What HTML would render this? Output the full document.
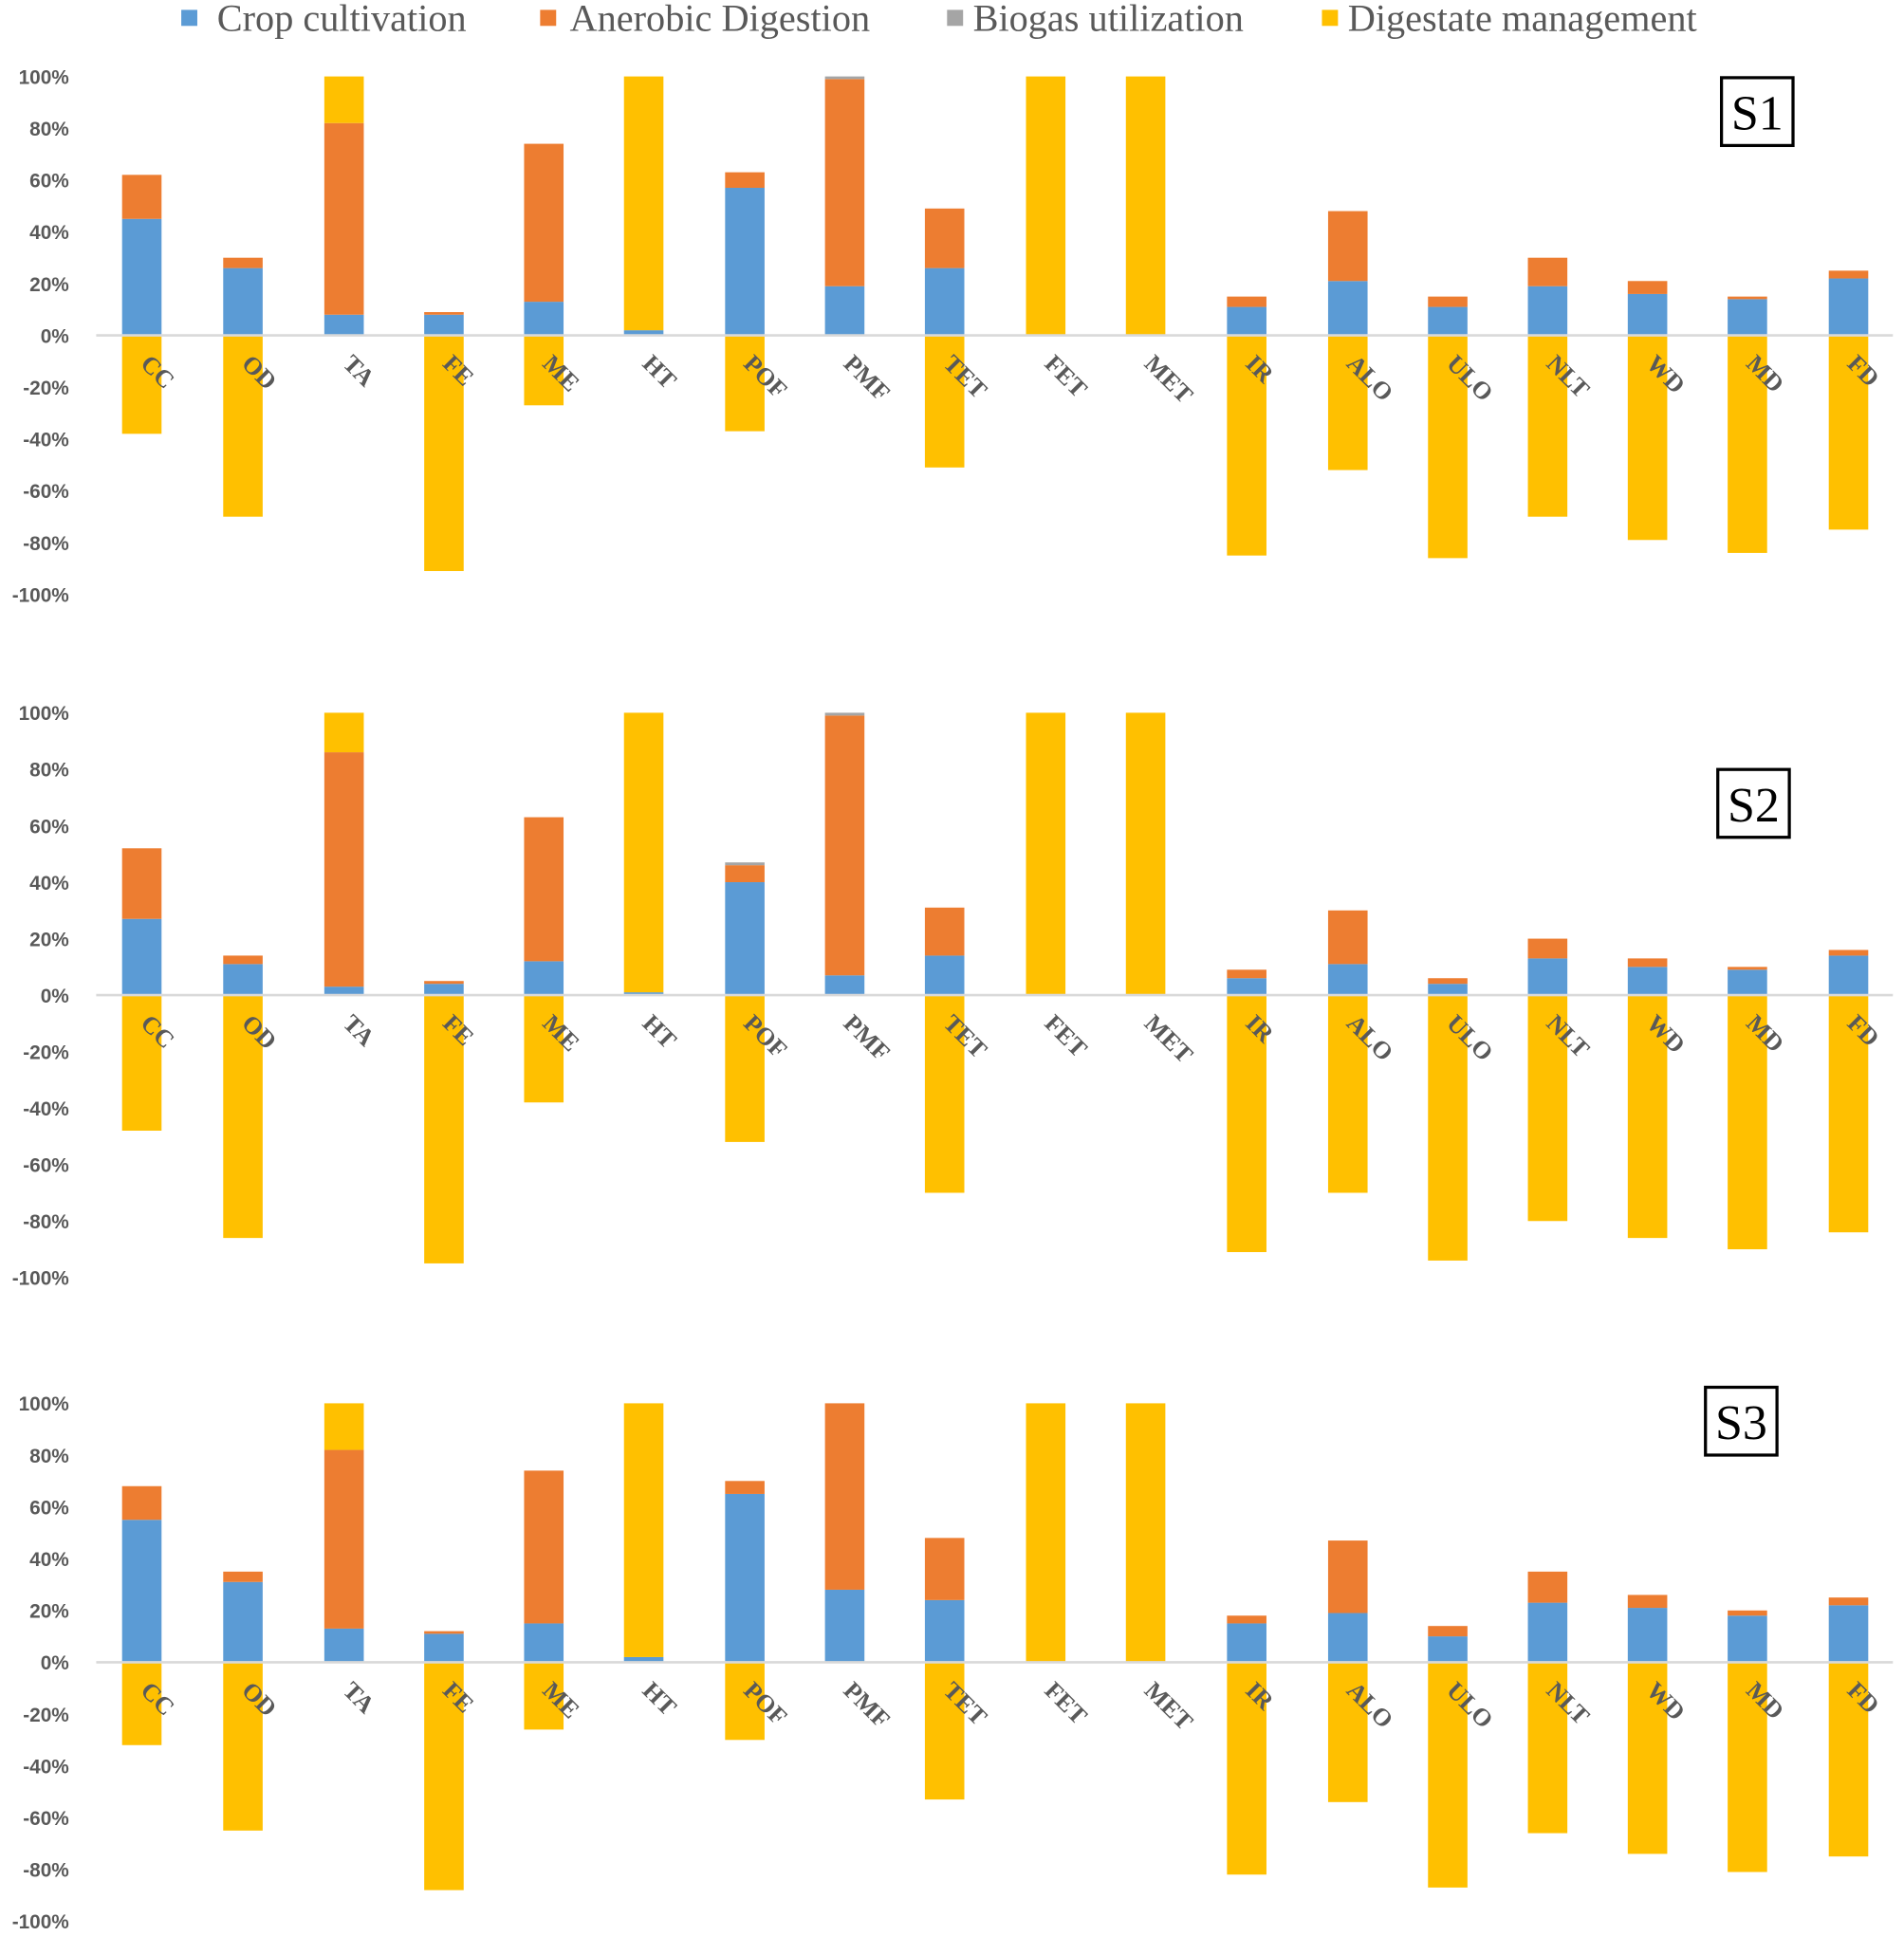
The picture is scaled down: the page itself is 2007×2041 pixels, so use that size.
<!DOCTYPE html>
<html><head><meta charset="utf-8"><style>
html,body{margin:0;padding:0;background:#fff;}
svg{display:block;}
</style></head><body>
<svg id="c" width="2007" height="2041" viewBox="0 0 1544 1570" preserveAspectRatio="none" xmlns="http://www.w3.org/2000/svg">
<g font-family="Liberation Serif, serif" font-size="31" fill="#595959">
<rect x="147" y="8" width="13" height="13" fill="#5B9BD5"/><text x="176" y="25">Crop cultivation</text>
<rect x="438" y="8" width="13" height="13" fill="#ED7D31"/><text x="462" y="25">Anerobic Digestion</text>
<rect x="768" y="8" width="13" height="13" fill="#A5A5A5"/><text x="789" y="25">Biogas utilization</text>
<rect x="1072" y="8" width="13" height="13" fill="#FFC000"/><text x="1093" y="25">Digestate management</text>
</g>
</svg>
<script>
var svg=document.getElementById('c'),NS='http://www.w3.org/2000/svg';
function el(t,a,txt){var e=document.createElementNS(NS,t);for(var k in a)e.setAttribute(k,a[k]);if(txt)e.textContent=txt;svg.appendChild(e);return e;}
var labels=['CC','OD','TA','FE','ME','HT','POF','PMF','TET','FET','MET','IR','ALO','ULO','NLT','WD','MD','FD'];
var xs=[115,197,279,360,441,522,604,685,766,848,929,1011,1093,1174,1255,1336,1417,1499];
var P=[
{z:272,s:2.1,box:[1396,63],name:'S1',d:[[45,62,62,62,-38],[26,30,30,30,-70],[8,82,82,100,0],[8,9,9,9,-91],[13,74,74,74,-27],[2,2,2,100,0],[57,63,63,63,-37],[19,99,100,100,0],[26,49,49,49,-51],[0,0,0,100,0],[0,0,0,100,0],[11,15,15,15,-85],[21,48,48,48,-52],[11,15,15,15,-86],[19,30,30,30,-70],[16,21,21,21,-79],[14,15,15,15,-84],[22,25,25,25,-75]]},
{z:807,s:2.29,box:[1393,624],name:'S2',d:[[27,52,52,52,-48],[11,14,14,14,-86],[3,86,86,100,0],[4,5,5,5,-95],[12,63,63,63,-38],[1,1,1,100,0],[40,46,47,47,-52],[7,99,100,100,0],[14,31,31,31,-70],[0,0,0,100,0],[0,0,0,100,0],[6,9,9,9,-91],[11,30,30,30,-70],[4,6,6,6,-94],[13,20,20,20,-80],[10,13,13,13,-86],[9,10,10,10,-90],[14,16,16,16,-84]]},
{z:1348,s:2.1,box:[1383,1125],name:'S3',d:[[55,68,68,68,-32],[31,35,35,35,-65],[13,82,82,100,0],[11,12,12,12,-88],[15,74,74,74,-26],[2,2,2,100,0],[65,70,70,70,-30],[28,100,100,100,0],[24,48,48,48,-53],[0,0,0,100,0],[0,0,0,100,0],[15,18,18,18,-82],[19,47,47,47,-54],[10,14,14,14,-87],[23,35,35,35,-66],[21,26,26,26,-74],[18,20,20,20,-81],[22,25,25,25,-75]]}];
var cols=['#5B9BD5','#ED7D31','#A5A5A5','#FFC000'];
P.forEach(function(p){
 for(var v=100;v>=-100;v-=20){el('text',{x:56,y:p.z-v*p.s+6,'text-anchor':'end','font-family':'Liberation Sans, sans-serif','font-size':16,'font-weight':'bold',fill:'#595959'},v+'%');}
 p.d.forEach(function(b,i){
  var x=xs[i]-16,prev=0;
  for(var k=0;k<4;k++){var t=b[k];if(t>prev)el('rect',{x:x,y:p.z-t*p.s,width:32,height:(t-prev)*p.s,fill:cols[k]});prev=Math.max(prev,t);}
  if(b[4]<0)el('rect',{x:x,y:p.z,width:32,height:-b[4]*p.s,fill:'#FFC000'});
 });
 el('line',{x1:78,y1:p.z,x2:1535,y2:p.z,stroke:'#D9D9D9','stroke-width':2});
 labels.forEach(function(l,i){var lx=xs[i]-2,ly=p.z+24;el('text',{x:lx,y:ly,transform:'rotate(45 '+lx+' '+ly+')','font-family':'Liberation Serif, serif','font-size':20,'font-weight':'bold',fill:'#595959'},l);});
 el('rect',{x:p.box[0],y:p.box[1],width:58,height:55,fill:'#fff',stroke:'#000','stroke-width':2.5});
 el('text',{x:p.box[0]+29,y:p.box[1]+42,'text-anchor':'middle','font-family':'Liberation Serif, serif','font-size':40,fill:'#000'},p.name);
});
</script>
</body></html>
